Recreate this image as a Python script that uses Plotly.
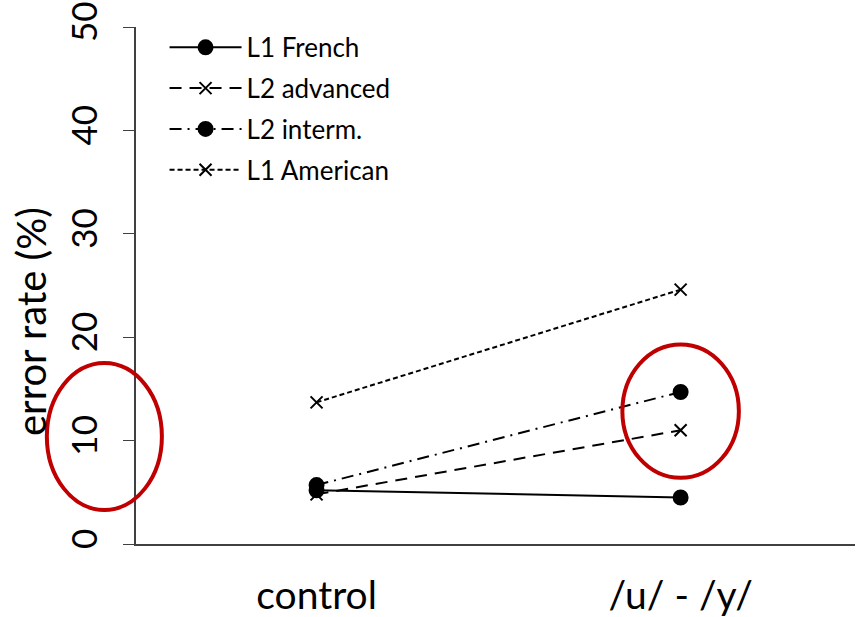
import plotly.graph_objects as go

categories = ["control", "/u/ - /y/"]
x_pos = [0, 1]
l1_french = [5.2, 4.5]
l2_advanced = [4.8, 11.0]
l2_interm = [5.7, 14.7]
l1_american = [13.7, 24.6]
y_ticks = [0, 10, 20, 30, 40, 50]

FONT = "Lato"

series = [
    ("L1 French", l1_french, "solid", "circle", 14),
    ("L2 advanced", l2_advanced, "12px,8px", "x-thin-open", 12),
    ("L2 interm.", l2_interm, "12px,6px,2px,6px", "circle", 14),
    ("L1 American", l1_american, "5px,3px", "x-thin-open", 12),
]

fig = go.Figure()
for i, (name, vals, dash, sym, size) in enumerate(series):
    fig.add_trace(go.Scatter(
        x=x_pos, y=vals, name=name, mode="lines+markers",
        legendgroup="g%d" % i,
        line=dict(color="black", width=2, dash=dash),
        marker=dict(symbol=sym, size=size, color="black",
                    line=dict(color="black", width=2)),
    ))

# red highlight ellipses
fig.add_shape(type="circle", xref="paper", yref="paper",
              x0=-0.124, x1=0.036, y0=0.066, y1=0.35,
              line=dict(color="#C00000", width=4))
fig.add_shape(type="circle", xref="x", yref="y",
              x0=0.84, x1=1.16, y0=6.4, y1=19.3,
              line=dict(color="#C00000", width=4))

fig.add_annotation(text="error rate (%)", xref="paper", yref="paper",
                   x=-0.147, y=0.43, xanchor="center", yanchor="middle",
                   textangle=-90, showarrow=False,
                   font=dict(size=40, family=FONT, color="black"))

fig.update_layout(
    width=856, height=617,
    margin=dict(l=136, r=1, t=27, b=73),
    paper_bgcolor="white", plot_bgcolor="white",
    font=dict(family=FONT, color="black"),
    showlegend=True,
    legend=dict(x=0.0397, y=1.006, xanchor="left", yanchor="top",
                font=dict(size=26, family=FONT), itemwidth=72,
                bgcolor="rgba(0,0,0,0)", tracegroupgap=4),
    xaxis=dict(range=[-0.496, 1.479], tickvals=x_pos, ticktext=categories,
               showgrid=False, zeroline=False, showline=True,
               linecolor="#404040", linewidth=2, ticks="",
               automargin=False, ticklabeloverflow="allow",
               tickfont=dict(size=39, family=FONT), ticklabelstandoff=16),
    yaxis=dict(range=[0, 50], tickvals=y_ticks, showgrid=False,
               zeroline=False, showline=True, linecolor="#404040",
               linewidth=1.5, ticks="outside", ticklen=11,
               tickcolor="#404040", tickangle=-90, automargin=False,
               ticklabeloverflow="allow",
               tickfont=dict(size=35, family=FONT), ticklabelstandoff=12),
)

fig.write_html("out.html", config={"displayModeBar": False},
               post_script="document.body.style.margin='0';")
